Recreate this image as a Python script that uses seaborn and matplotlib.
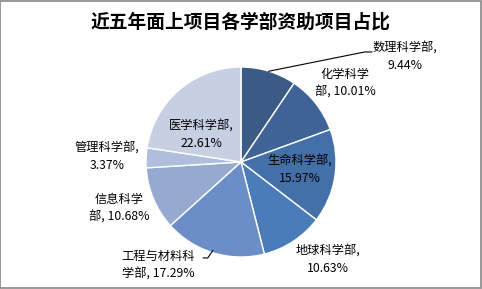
import matplotlib
matplotlib.use("Agg")
import matplotlib.pyplot as plt
import seaborn as sns

categories = ["数理科学部", "化学科学部", "生命科学部", "地球科学部",
              "工程与材料科学部", "信息科学部", "管理科学部", "医学科学部"]
shares = [9.44, 10.01, 15.97, 10.63, 17.29, 10.68, 3.37, 22.61]
label_texts = ["数理科学部,\n9.44%", "化学科学\n部, 10.01%", "生命科学部,\n15.97%",
               "地球科学部,\n10.63%", "工程与材料科\n学部, 17.29%", "信息科学\n部, 10.68%",
               "管理科学部,\n3.37%", "医学科学部,\n22.61%"]
title = "近五年面上项目各学部资助项目占比"

colors = ["#3B5A86", "#3F6397", "#4470A9", "#4A7CBA", "#6B8EC6",
          "#95A9D1", "#AFBEDC", "#C7D0E3"]

sns.set_theme(style="white")
plt.rcParams["font.family"] = ["Noto Sans CJK SC", "DejaVu Sans"]

W, H = 482, 289
fig = plt.figure(figsize=(W / 100, H / 100), dpi=100)
fig.patch.set_facecolor("white")

cx, cy, r = 241, 162, 95
ax = fig.add_axes([(cx - r) / W, (H - cy - r) / H, 2 * r / W, 2 * r / H])
ax.pie(shares, colors=colors, startangle=90, counterclock=False,
       wedgeprops=dict(edgecolor="white", linewidth=1.0), radius=1.0)
ax.set_xlim(-1, 1)
ax.set_ylim(-1, 1)
ax.set_aspect("equal")
ax.axis("off")

label_pos = [(1.726, 1.105), (1.095, 0.832), (0.621, -0.084), (0.916, -1.032),
             (-0.874, -1.084), (-1.284, -0.484), (-1.41, 0.053), (-0.421, 0.284)]
for txt, (x, y) in zip(label_texts, label_pos):
    ax.text(x, y, txt, ha="center", va="center", fontsize=8.8, color="black",
            linespacing=1.45, clip_on=False)

# leader lines
ax.plot([0.29, 1.30, 1.38], [0.955, 1.158, 1.158], color="black", lw=0.8, clip_on=False)
ax.plot([-0.295, -0.35, -0.40], [-0.93, -1.01, -1.01], color="black", lw=0.8, clip_on=False)

fig.text(0.5, 1 - 22 / H, title, ha="center", va="center", fontsize=13.5,
         fontweight="bold", color="black")

# figure border
fig.add_artist(plt.Rectangle((0.001, 0.002), 0.997, 0.995, transform=fig.transFigure,
                             fill=False, edgecolor="#868686", linewidth=1.2))

fig.savefig("out.png", dpi=100)
